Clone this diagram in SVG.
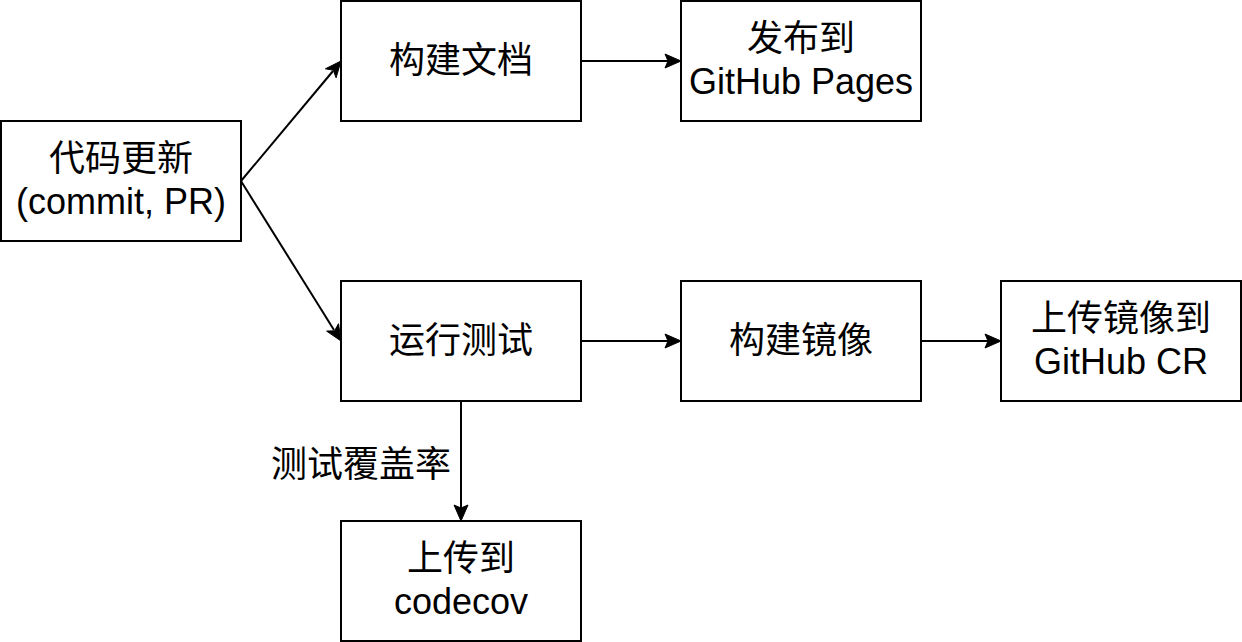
<svg xmlns="http://www.w3.org/2000/svg" width="1242" height="642" viewBox="0 0 1242 642">
<defs>
<style>
.box{fill:#fff;stroke:#000;stroke-width:2}
.t{font-family:"Liberation Sans","Noto Sans CJK SC",Arial,sans-serif;font-size:36px;fill:#000;text-anchor:middle}
.e{fill:none;stroke:#000;stroke-width:2}
.ah{fill:#000;stroke:#000;stroke-width:1}
</style>
</defs>
<rect width="1242" height="642" fill="#fff"/>
<g id="connectors">
<line class="e" x1="241" y1="181" x2="333" y2="71"/>
<polygon class="ah" points="341,61 336.1,77.8 333.3,70.2 325.4,68.8"/>
<line class="e" x1="241" y1="181" x2="334" y2="330"/>
<polygon class="ah" points="341,341 326.6,331.1 334.6,330.8 338.5,323.7"/>
<line class="e" x1="581" y1="61" x2="670" y2="61"/>
<polygon class="ah" points="681,61 665,68 668,61 665,54"/>
<line class="e" x1="581" y1="341" x2="670" y2="341"/>
<polygon class="ah" points="681,341 665,348 668,341 665,334"/>
<line class="e" x1="921" y1="341" x2="990" y2="341"/>
<polygon class="ah" points="1001,341 985,348 988,341 985,334"/>
<line class="e" x1="461" y1="401" x2="461" y2="510"/>
<polygon class="ah" points="461,521 454,505 461,508 468,505"/>
<text class="t" x="361" y="477">测试覆盖率</text>
</g>
<g id="n1"><rect class="box" x="1" y="121" width="240" height="120"/><text class="t" x="121" y="171">代码更新</text><text class="t" x="121" y="214">(commit, PR)</text></g>
<g id="n2"><rect class="box" x="341" y="1" width="240" height="120"/><text class="t" x="461" y="73">构建文档</text></g>
<g id="n3"><rect class="box" x="681" y="1" width="240" height="120"/><text class="t" x="801" y="51">发布到</text><text class="t" x="801" y="94">GitHub Pages</text></g>
<g id="n4"><rect class="box" x="341" y="281" width="240" height="120"/><text class="t" x="461" y="353">运行测试</text></g>
<g id="n5"><rect class="box" x="681" y="281" width="240" height="120"/><text class="t" x="801" y="353">构建镜像</text></g>
<g id="n6"><rect class="box" x="1001" y="281" width="240" height="120"/><text class="t" x="1121" y="331">上传镜像到</text><text class="t" x="1121" y="374">GitHub CR</text></g>
<g id="n7"><rect class="box" x="341" y="521" width="240" height="120"/><text class="t" x="461" y="571">上传到</text><text class="t" x="461" y="614">codecov</text></g>
</svg>
